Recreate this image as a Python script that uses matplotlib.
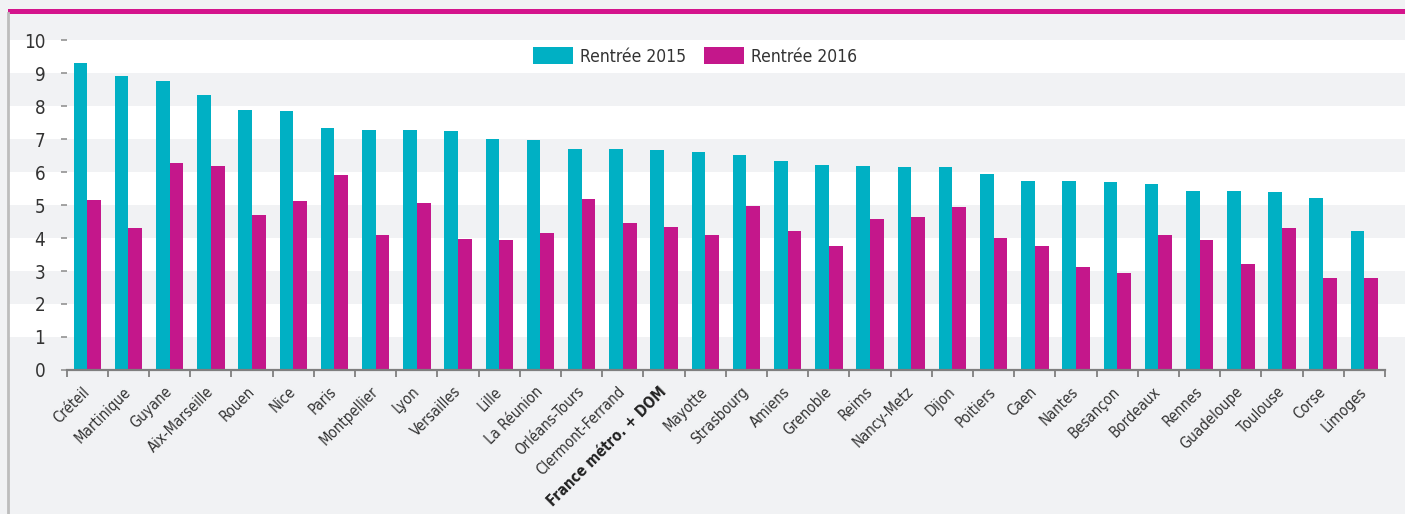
import matplotlib
matplotlib.use("Agg")
import matplotlib.pyplot as plt
from matplotlib import font_manager
from matplotlib.patches import Rectangle
from matplotlib.lines import Line2D
import numpy as np

# Data
academies = ["Créteil", "Martinique", "Guyane", "Aix-Marseille", "Rouen", "Nice", "Paris",
             "Montpellier", "Lyon", "Versailles", "Lille", "La Réunion", "Orléans-Tours",
             "Clermont-Ferrand", "France métro. + DOM", "Mayotte", "Strasbourg", "Amiens",
             "Grenoble", "Reims", "Nancy-Metz", "Dijon", "Poitiers", "Caen", "Nantes",
             "Besançon", "Bordeaux", "Rennes", "Guadeloupe", "Toulouse", "Corse", "Limoges"]
rentree_2015 = [9.29, 8.91, 8.76, 8.33, 7.88, 7.84, 7.32, 7.27, 7.26, 7.23, 7.00, 6.96, 6.70,
                6.69, 6.68, 6.62, 6.53, 6.33, 6.20, 6.18, 6.15, 6.14, 5.94, 5.72, 5.72, 5.69,
                5.63, 5.44, 5.41, 5.40, 5.20, 4.22]
rentree_2016 = [5.15, 4.29, 6.28, 6.19, 4.69, 5.11, 5.91, 4.10, 5.05, 3.96, 3.95, 4.14, 5.18,
                4.45, 4.32, 4.09, 4.98, 4.22, 3.75, 4.58, 4.63, 4.95, 3.99, 3.76, 3.11, 2.93,
                4.09, 3.95, 3.21, 4.29, 2.79, 2.78]
series_labels = ["Rentrée 2015", "Rentrée 2016"]
highlight = "France métro. + DOM"

teal = "#00b0c4"
magenta = "#c4178b"
bg = "#f1f2f4"
text_col = "#333333"

# Pick a narrow font if one is available
family = "DejaVu Sans"
stretch = "condensed"
try:
    font_manager.findfont("Liberation Sans Narrow", fallback_to_default=False)
    family = "Liberation Sans Narrow"
    stretch = "normal"
except Exception:
    pass
plt.rcParams["font.family"] = [family, "DejaVu Sans"]
plt.rcParams["font.stretch"] = stretch

fig = plt.figure(figsize=(14.05, 5.14), dpi=100, facecolor=bg)
ax = fig.add_axes([0.04747, 0.2802, 0.9383, 0.6945])
ax.set_facecolor(bg)

n = len(academies)
x = np.arange(n)
w = 0.333

# Alternating white bands, stretched over the full width
left_frac = (8 - 66.7) / (1385 - 66.7)
for lo in range(1, 10, 2):
    band = ax.axhspan(lo, lo + 1, xmin=left_frac, xmax=1.02, facecolor="white",
                      edgecolor="none", zorder=0)
    band.set_clip_on(False)

ax.bar(x - w, rentree_2015, width=w, align="edge", color=teal, zorder=2, label=series_labels[0])
ax.bar(x, rentree_2016, width=w, align="edge", color=magenta, zorder=2, label=series_labels[1])

ax.set_xlim(-0.5, n - 0.5)
ax.set_ylim(0, 10.82)

for s in ["top", "right", "left"]:
    ax.spines[s].set_visible(False)
ax.spines["bottom"].set_color("#7f7f7f")
ax.spines["bottom"].set_linewidth(1.6)
ax.spines["bottom"].set_zorder(3)

ax.set_yticks(range(0, 11))
ax.tick_params(axis="y", length=4.5, width=1.1, color="#8a8a8a", pad=11,
               labelsize=13.5, labelcolor=text_col)

ax.set_xticks(x)
ax.set_xticks(np.arange(-0.5, n, 1.0), minor=True)
ax.tick_params(axis="x", which="major", length=0, pad=14)
ax.tick_params(axis="x", which="minor", length=5, width=1.3, color="#7f7f7f")
ax.set_xticklabels(academies, rotation=45, ha="right", va="center",
                   rotation_mode="anchor", fontsize=10.7, color=text_col)
for lbl in ax.get_xticklabels():
    if lbl.get_text() == highlight:
        lbl.set_fontweight("bold")
        lbl.set_color("#222222")

leg = ax.legend(loc="center", bbox_to_anchor=(0.4766, 0.878), ncol=2, frameon=False,
                fontsize=12.5, handlelength=2.3, handleheight=1.1, handletextpad=0.4,
                columnspacing=1.0)
for t in leg.get_texts():
    t.set_color(text_col)

# Magenta rule on top and grey border on the left
fig.add_artist(Rectangle((8 / 1405, 1 - 13.5 / 514), 1 - 8 / 1405, 5 / 514,
                         transform=fig.transFigure, facecolor="#d4148c", edgecolor="none"))
fig.add_artist(Line2D([8 / 1405, 8 / 1405], [0, 1 - 13 / 514], transform=fig.transFigure,
                      color="#bdbdbd", linewidth=2))

fig.savefig("out.png", dpi=100, facecolor=bg)
